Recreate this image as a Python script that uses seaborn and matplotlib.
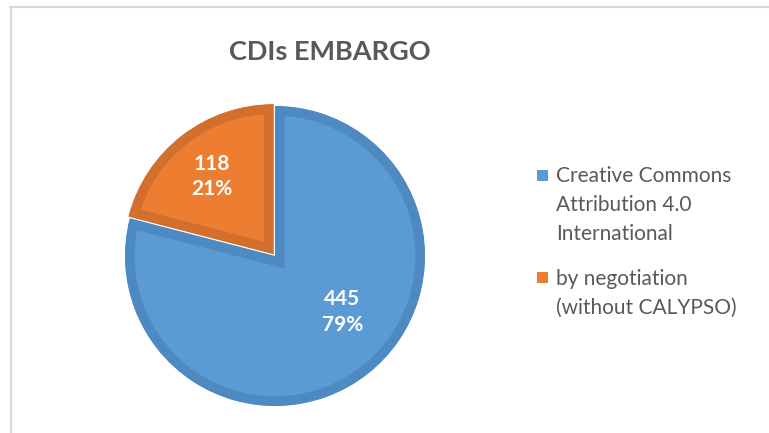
import matplotlib
matplotlib.use('Agg')
import matplotlib.pyplot as plt
import seaborn as sns
from matplotlib.lines import Line2D
from matplotlib.patches import Rectangle

# data
licences = ['Creative Commons\nAttribution 4.0\nInternational', 'by negotiation\n(without CALYPSO)']
counts = [445, 118]
fills = ['#5B9BD5', '#ED7D31']
borders = ['#4F89C1', '#D36F2C']

sns.set_theme(style='white')
plt.rcParams['font.family'] = ['Lato', 'DejaVu Sans']

fig = plt.figure(figsize=(7.69, 4.33), dpi=100)
W, H = 769, 433
ax = fig.add_axes([110 / W, 12 / H, 330 / W, 330 / H])

total = sum(counts)
wedges, texts, autotexts = ax.pie(
    counts, colors=fills, startangle=90, counterclock=False,
    explode=[0, 0.015],
    autopct=lambda p: f'{round(p * total / 100)}\n{p:.0f}%',
    pctdistance=0.66,
    textprops=dict(color='white', fontsize=15, fontweight='bold', linespacing=1.35),
)
for w, ec in zip(wedges, borders):
    w.set_edgecolor(ec)
    w.set_linewidth(14)
    w.set_clip_on(True)
    w.set_clip_path(w)

# nudge the labels like the original
autotexts[0].set_position((0.45, -0.375))
autotexts[1].set_position((-0.42, 0.53))

ax.set_xlim(-1.1, 1.1)
ax.set_ylim(-1.1, 1.1)
ax.set_aspect('equal')
ax.axis('off')

fig.text(330 / W, 1 - 52 / H, 'CDIs EMBARGO', ha='center', va='center',
         fontsize=19.5, fontweight='bold', color='#595959')

# legend, swatch next to the first line of each label
# (va='baseline' goes by the last line here)
for lab, c, sq, base in zip(licences, fills, [170, 272], [240, 314]):
    fig.add_artist(Rectangle((537 / W, 1 - (sq + 11) / H), 11 / W, 11 / H,
                             transform=fig.transFigure, facecolor=c, edgecolor='none'))
    fig.text(556 / W, 1 - base / H, lab, ha='left', va='baseline', fontsize=15,
             color='#595959', linespacing=1.55)

# chart frame
fig.add_artist(Line2D([10 / W, 1], [1 - 7 / H, 1 - 7 / H], color='#d9d9d9', lw=1.5))
fig.add_artist(Line2D([11 / W, 11 / W], [0, 1 - 7 / H], color='#d9d9d9', lw=1.5))

fig.savefig('out.png', dpi=100)
